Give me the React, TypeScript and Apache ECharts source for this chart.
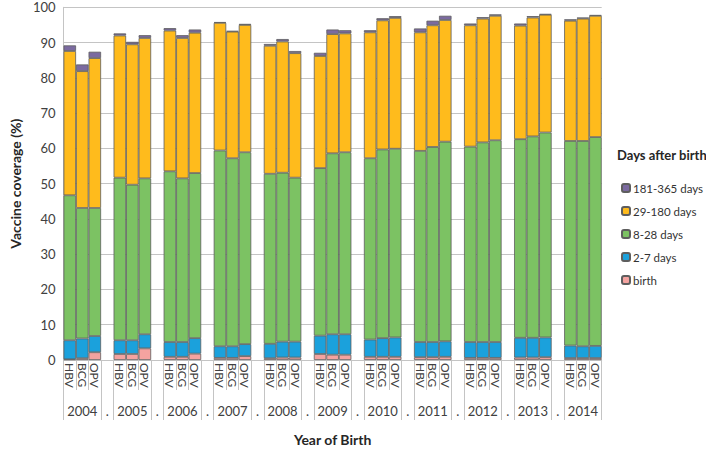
import React, { useEffect, useRef } from "react";
import * as echarts from "echarts";

const years = ["2004", "2005", "2006", "2007", "2008", "2009", "2010", "2011", "2012", "2013", "2014"];
const vaccines = ["HBV", "BCG", "OPV"];
const seriesNames = ["birth", "2-7 days", "8-28 days", "29-180 days", "181-365 days"];
const legendOrder = ["181-365 days", "29-180 days", "8-28 days", "2-7 days", "birth"];

// values per year, in order HBV, BCG, OPV
const birth = [
  0.2, 0.5, 2.2,
  1.7, 1.7, 3.3,
  0.9, 0.9, 1.8,
  0.6, 0.6, 1.1,
  0.5, 0.7, 0.7,
  1.7, 1.5, 1.5,
  0.9, 0.9, 0.9,
  0.8, 0.8, 0.9,
  0.6, 0.6, 0.6,
  0.7, 0.7, 0.8,
  0.55, 0.55, 0.55,
];
const days2to7 = [
  5.4, 5.6, 4.6,
  3.9, 3.9, 4.0,
  4.2, 4.2, 4.4,
  3.3, 3.3, 3.4,
  4.1, 4.5, 4.5,
  5.2, 5.8, 5.8,
  4.9, 5.3, 5.5,
  4.3, 4.3, 4.4,
  4.5, 4.5, 4.5,
  5.6, 5.6, 5.6,
  3.55, 3.35, 3.45,
];
const days8to28 = [
  41.1, 37.0, 36.3,
  46.1, 44.1, 44.2,
  48.4, 46.4, 46.8,
  55.5, 53.3, 54.4,
  48.2, 47.9, 46.5,
  47.5, 51.3, 51.6,
  51.4, 53.5, 53.5,
  54.2, 55.3, 56.6,
  55.4, 56.6, 57.2,
  56.3, 57.1, 58.1,
  58.0, 58.2, 59.2,
];
const days29to180 = [
  40.9, 38.8, 42.5,
  40.3, 39.8, 39.8,
  39.9, 39.8, 39.8,
  36.2, 35.9, 36.1,
  36.3, 37.2, 35.3,
  31.8, 33.8, 33.7,
  35.7, 36.6, 37.1,
  33.6, 34.5, 34.5,
  34.4, 35.1, 35.3,
  32.2, 33.7, 33.4,
  34.1, 34.7, 34.4,
];
const days181to365 = [
  1.6, 1.9, 1.8,
  0.6, 0.7, 0.8,
  0.7, 0.8, 0.9,
  0.2, 0.2, 0.3,
  0.5, 0.7, 0.6,
  0.9, 1.3, 0.9,
  0.6, 0.6, 0.5,
  1.1, 1.3, 1.2,
  0.5, 0.4, 0.4,
  0.6, 0.4, 0.2,
  0.4, 0.3, 0.2,
];

const colors = ["#f4a3a0", "#1ba1dc", "#7cc263", "#ffbb1c", "#7b6aa0"];
const seriesValues = [birth, days2to7, days8to28, days29to180, days181to365];

// build categories: 3 bars per year plus a spacer between years
const vaccineCats: string[] = [];
const yearCats: string[] = [];
const slotIndex: number[] = []; // -1 for spacer, otherwise index in data arrays
years.forEach((y, yi) => {
  vaccines.forEach((v, vi) => {
    vaccineCats.push(v);
    yearCats.push(vi === 1 ? y : "");
    slotIndex.push(yi * 3 + vi);
  });
  if (yi < years.length - 1) {
    vaccineCats.push("");
    yearCats.push(".");
    slotIndex.push(-1);
  }
});

const FONT = "Lato, 'Open Sans', sans-serif";

export default function App() {
  const ref = useRef<HTMLDivElement>(null);
  useEffect(() => {
    document.body.style.margin = "0";
    const chart = echarts.init(ref.current!, null, { renderer: "svg" });
    const gridColor = "#c4c4c4";
    chart.setOption({
      animation: false,
      textStyle: { fontFamily: FONT },
      grid: { left: 53, top: 7.3, right: 104.3, bottom: 81.7, containLabel: false },
      legend: {
        orient: "vertical",
        left: 616,
        top: 177,
        itemWidth: 8,
        itemHeight: 8,
        itemGap: 11,
        data: legendOrder,
        textStyle: { fontSize: 11.5, color: "#333333", fontFamily: FONT, padding: [0, 0, 0, -2] },
        selectedMode: false,
      },
      graphic: [
        {
          type: "text",
          left: 617,
          top: 148,
          style: { text: "Days after birth", font: `bold 13px ${FONT}`, fill: "#262626" },
        },
      ],
      xAxis: [
        {
          type: "category",
          data: vaccineCats,
          position: "bottom",
          axisLine: { show: true, lineStyle: { color: gridColor } },
          axisTick: { show: true, interval: 0, length: 30, lineStyle: { color: gridColor } },
          axisLabel: { interval: 0, rotate: -90, fontSize: 12, color: "#404040", margin: 3 },
        },
        {
          type: "category",
          data: yearCats,
          position: "bottom",
          offset: 30,
          axisLine: { show: false },
          axisTick: {
            show: true,
            interval: (i: number) => slotIndex[i] === -1 || slotIndex[i] % 3 === 0,
            length: 30,
            lineStyle: { color: gridColor },
          },
          axisLabel: { interval: 0, fontSize: 13, color: "#404040", margin: 14 },
          name: "Year of Birth",
          nameLocation: "middle",
          nameGap: 42,
          nameTextStyle: { fontSize: 14, fontWeight: "bold", color: "#262626" },
        },
      ],
      yAxis: {
        type: "value",
        min: 0,
        max: 100,
        interval: 10,
        axisLine: { show: true, lineStyle: { color: gridColor } },
        axisTick: { show: false },
        splitLine: { lineStyle: { color: gridColor } },
        axisLabel: { fontSize: 13, color: "#404040", margin: 8 },
        name: "Vaccine coverage (%)",
        nameLocation: "middle",
        nameGap: 38,
        nameTextStyle: { fontSize: 14, fontWeight: "bold", color: "#262626" },
      },
      series: seriesNames.map((name, si) => ({
        name,
        type: "bar",
        stack: "total",
        xAxisIndex: 0,
        barCategoryGap: "0%",
        itemStyle: { color: colors[si], borderColor: "#5e5e5e", borderWidth: 0.8 },
        data: slotIndex.map((k) => (k === -1 ? "-" : seriesValues[si][k])),
      })),
    });
    return () => chart.dispose();
  }, []);
  return <div ref={ref} style={{ width: 706, height: 451 }} />;
}
